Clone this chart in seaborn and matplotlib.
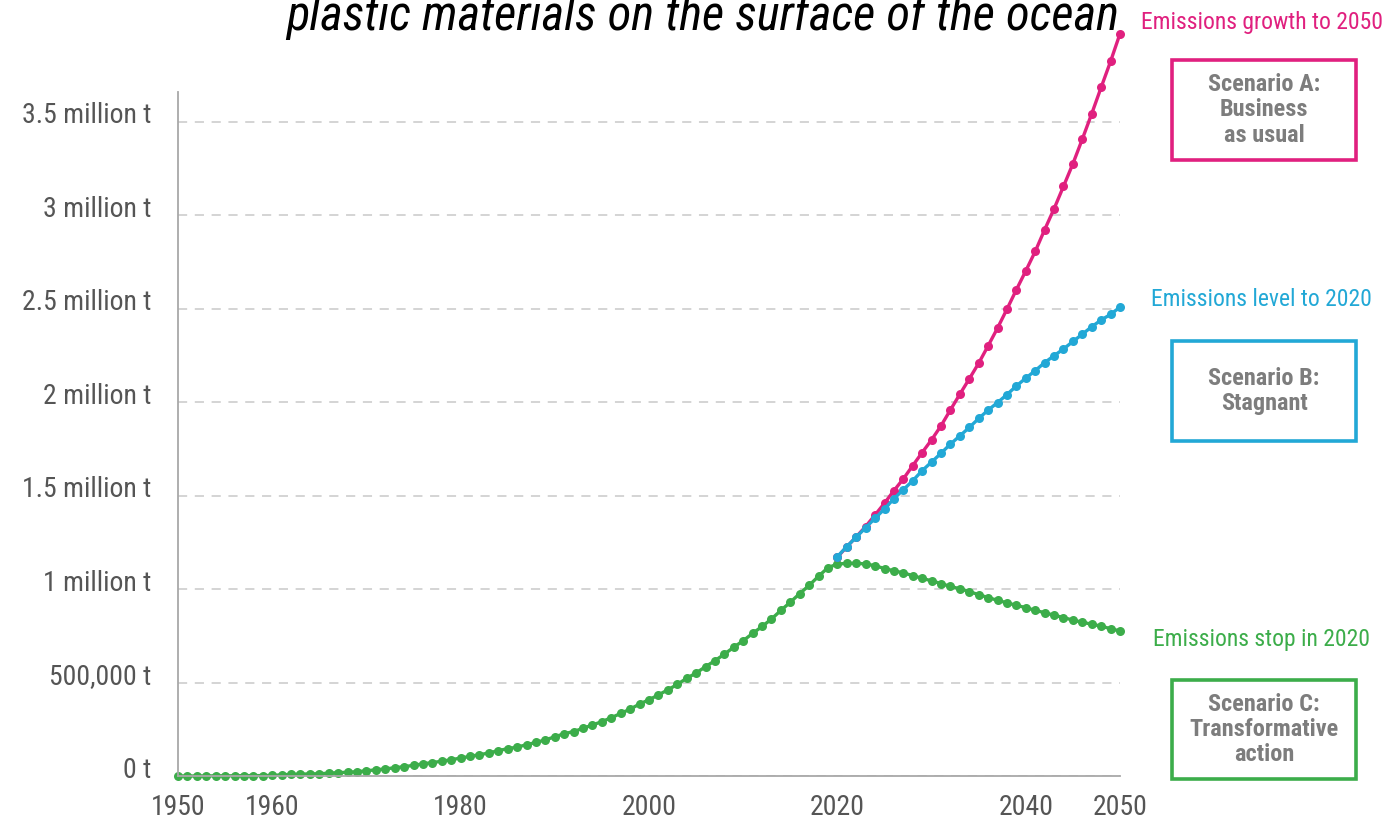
import numpy as np
import pandas as pd
import seaborn as sns
import matplotlib.pyplot as plt
from matplotlib import font_manager, patches, transforms

# Valores em milhões de toneladas (um ponto por ano)
anos_c = list(range(1950, 2051))
cenario_c = [
    0.000, 0.000, 0.000, 0.000, 0.001, 0.001, 0.001, 0.002, 0.002, 0.002, 0.003,
    0.006, 0.009, 0.010, 0.011, 0.012, 0.015, 0.018, 0.020, 0.023, 0.028,
    0.033, 0.038, 0.044, 0.050, 0.057, 0.065, 0.072, 0.079, 0.087, 0.096,
    0.105, 0.114, 0.123, 0.136, 0.146, 0.155, 0.167, 0.180, 0.193, 0.210,
    0.226, 0.238, 0.255, 0.273, 0.291, 0.312, 0.335, 0.358, 0.385, 0.408,
    0.434, 0.461, 0.490, 0.523, 0.551, 0.585, 0.617, 0.652, 0.689, 0.724,
    0.763, 0.800, 0.840, 0.886, 0.930, 0.976, 1.020, 1.069, 1.115, 1.134,
    1.138, 1.138, 1.135, 1.125, 1.110, 1.098, 1.087, 1.072, 1.058, 1.044,
    1.030, 1.014, 1.002, 0.987, 0.970, 0.955, 0.940, 0.927, 0.913, 0.901,
    0.886, 0.874, 0.860, 0.848, 0.834, 0.823, 0.812, 0.802, 0.788, 0.776,
]
anos_ab = list(range(2020, 2051))
cenario_b = [
    1.174, 1.228, 1.278, 1.329, 1.379, 1.429, 1.484, 1.532, 1.580, 1.634,
    1.680, 1.727, 1.776, 1.820, 1.865, 1.913, 1.958, 1.998, 2.041, 2.087,
    2.129, 2.169, 2.212, 2.249, 2.285, 2.325, 2.364, 2.404, 2.440, 2.470,
    2.509,
]
cenario_a = [
    1.172, 1.226, 1.280, 1.335, 1.397, 1.460, 1.527, 1.590, 1.661, 1.731,
    1.799, 1.874, 1.959, 2.043, 2.125, 2.209, 2.302, 2.397, 2.498, 2.602,
    2.703, 2.807, 2.923, 3.035, 3.155, 3.276, 3.408, 3.544, 3.685, 3.824,
    3.972,
]

x_ticks = [1950, 1960, 1980, 2000, 2020, 2040, 2050]
x_labels = ['1950', '1960', '1980', '2000', '2020', '2040', '2050']
y_ticks = [0, 0.5, 1, 1.5, 2, 2.5, 3, 3.5]
y_labels = ['0 t', '500,000 t', '1 million t', '1.5 million t', '2 million t',
            '2.5 million t', '3 million t', '3.5 million t']

titulo = 'plastic materials on the surface of the ocean'
rotulos_linha = ['Emissions growth to 2050', 'Emissions level to 2020', 'Emissions stop in 2020']
textos_caixa = ['Scenario A:\nBusiness\nas usual', 'Scenario B:\nStagnant',
                'Scenario C:\nTransformative\naction']

cores = {'A': '#e0207f', 'B': '#22a8d6', 'C': '#3cad4a'}

df = pd.concat([
    pd.DataFrame({'Ano': anos_c, 'Emissoes': cenario_c, 'Cenario': 'C'}),
    pd.DataFrame({'Ano': anos_ab, 'Emissoes': cenario_a, 'Cenario': 'A'}),
    pd.DataFrame({'Ano': anos_ab, 'Emissoes': cenario_b, 'Cenario': 'B'}),
], ignore_index=True)

sns.set_theme(style="white")

# fonte condensada se existir
nomes = {f.name for f in font_manager.fontManager.ttflist}
fonte = next((n for n in ['Roboto Condensed', 'Liberation Sans Narrow', 'Open Sans Condensed']
              if n in nomes), 'Roboto')
plt.rcParams['font.family'] = [fonte, 'DejaVu Sans']

W, H = 1383, 822
fig = plt.figure(figsize=(W / 100, H / 100), dpi=100)
ax = fig.add_axes([178 / W, (H - 776) / H, (1120 - 178) / W, (776 - 92) / H])

sns.lineplot(
    data=df, x='Ano', y='Emissoes', hue='Cenario', hue_order=['C', 'A', 'B'],
    palette=cores, marker='o', markersize=6.5, markeredgewidth=0,
    linewidth=2.4, clip_on=False, legend=False, errorbar=None, ax=ax
)

ax.set_xlim(1950, 2050)
ax.set_ylim(0, 3.66)
ax.set_xlabel('')
ax.set_ylabel('')
ax.set_xticks(x_ticks)
ax.set_xticklabels(x_labels)
ax.set_yticks(y_ticks)
ax.set_yticklabels(y_labels)
ax.tick_params(axis='both', length=0, labelsize=20, colors='#555555')
ax.tick_params(axis='y', pad=19)
ax.tick_params(axis='x', pad=13)

# rótulos do eixo y um pouco acima da linha de grade
desloc = transforms.ScaledTranslation(0, 9 / 100, fig.dpi_scale_trans)
for lbl in ax.get_yticklabels():
    lbl.set_transform(lbl.get_transform() + desloc)

ax.yaxis.grid(True, color='#c9c9c9', linestyle=(0, (6, 5)), linewidth=1.1)
ax.xaxis.grid(False)
for lado in ['top', 'right']:
    ax.spines[lado].set_visible(False)
for lado in ['left', 'bottom']:
    ax.spines[lado].set_color('#a8a8a8')
    ax.spines[lado].set_linewidth(1.3)
ax.set_axisbelow(True)

# título cortado no topo (como na imagem original)
fig.text(703 / W, 1 - 30 / H, titulo, ha='center', va='baseline',
         fontsize=35, style='italic', color='black')

# rótulos e caixas à direita
cores_lista = [cores['A'], cores['B'], cores['C']]
rot_x = [1141, 1151, 1153]
rot_y = [22, 300, 639]
caixas_y = [(60, 160), (341, 441), (680, 779)]
for rot, txt, cor, rx, ry, (cy0, cy1) in zip(rotulos_linha, textos_caixa, cores_lista,
                                             rot_x, rot_y, caixas_y):
    fig.text(rx / W, 1 - ry / H, rot, ha='left', va='center', fontsize=17, color=cor)
    ret = patches.Rectangle((1172 / W, 1 - cy1 / H), (1356 - 1172) / W, (cy1 - cy0) / H,
                            transform=fig.transFigure, fill=False, edgecolor=cor, linewidth=2.6)
    fig.add_artist(ret)
    fig.text(1264 / W, 1 - (cy0 + cy1) / 2 / H, txt, ha='center', va='center',
             fontsize=17.5, fontweight='bold', color='#7d7d7d', linespacing=1.12)

fig.savefig('out.png', dpi=100)
